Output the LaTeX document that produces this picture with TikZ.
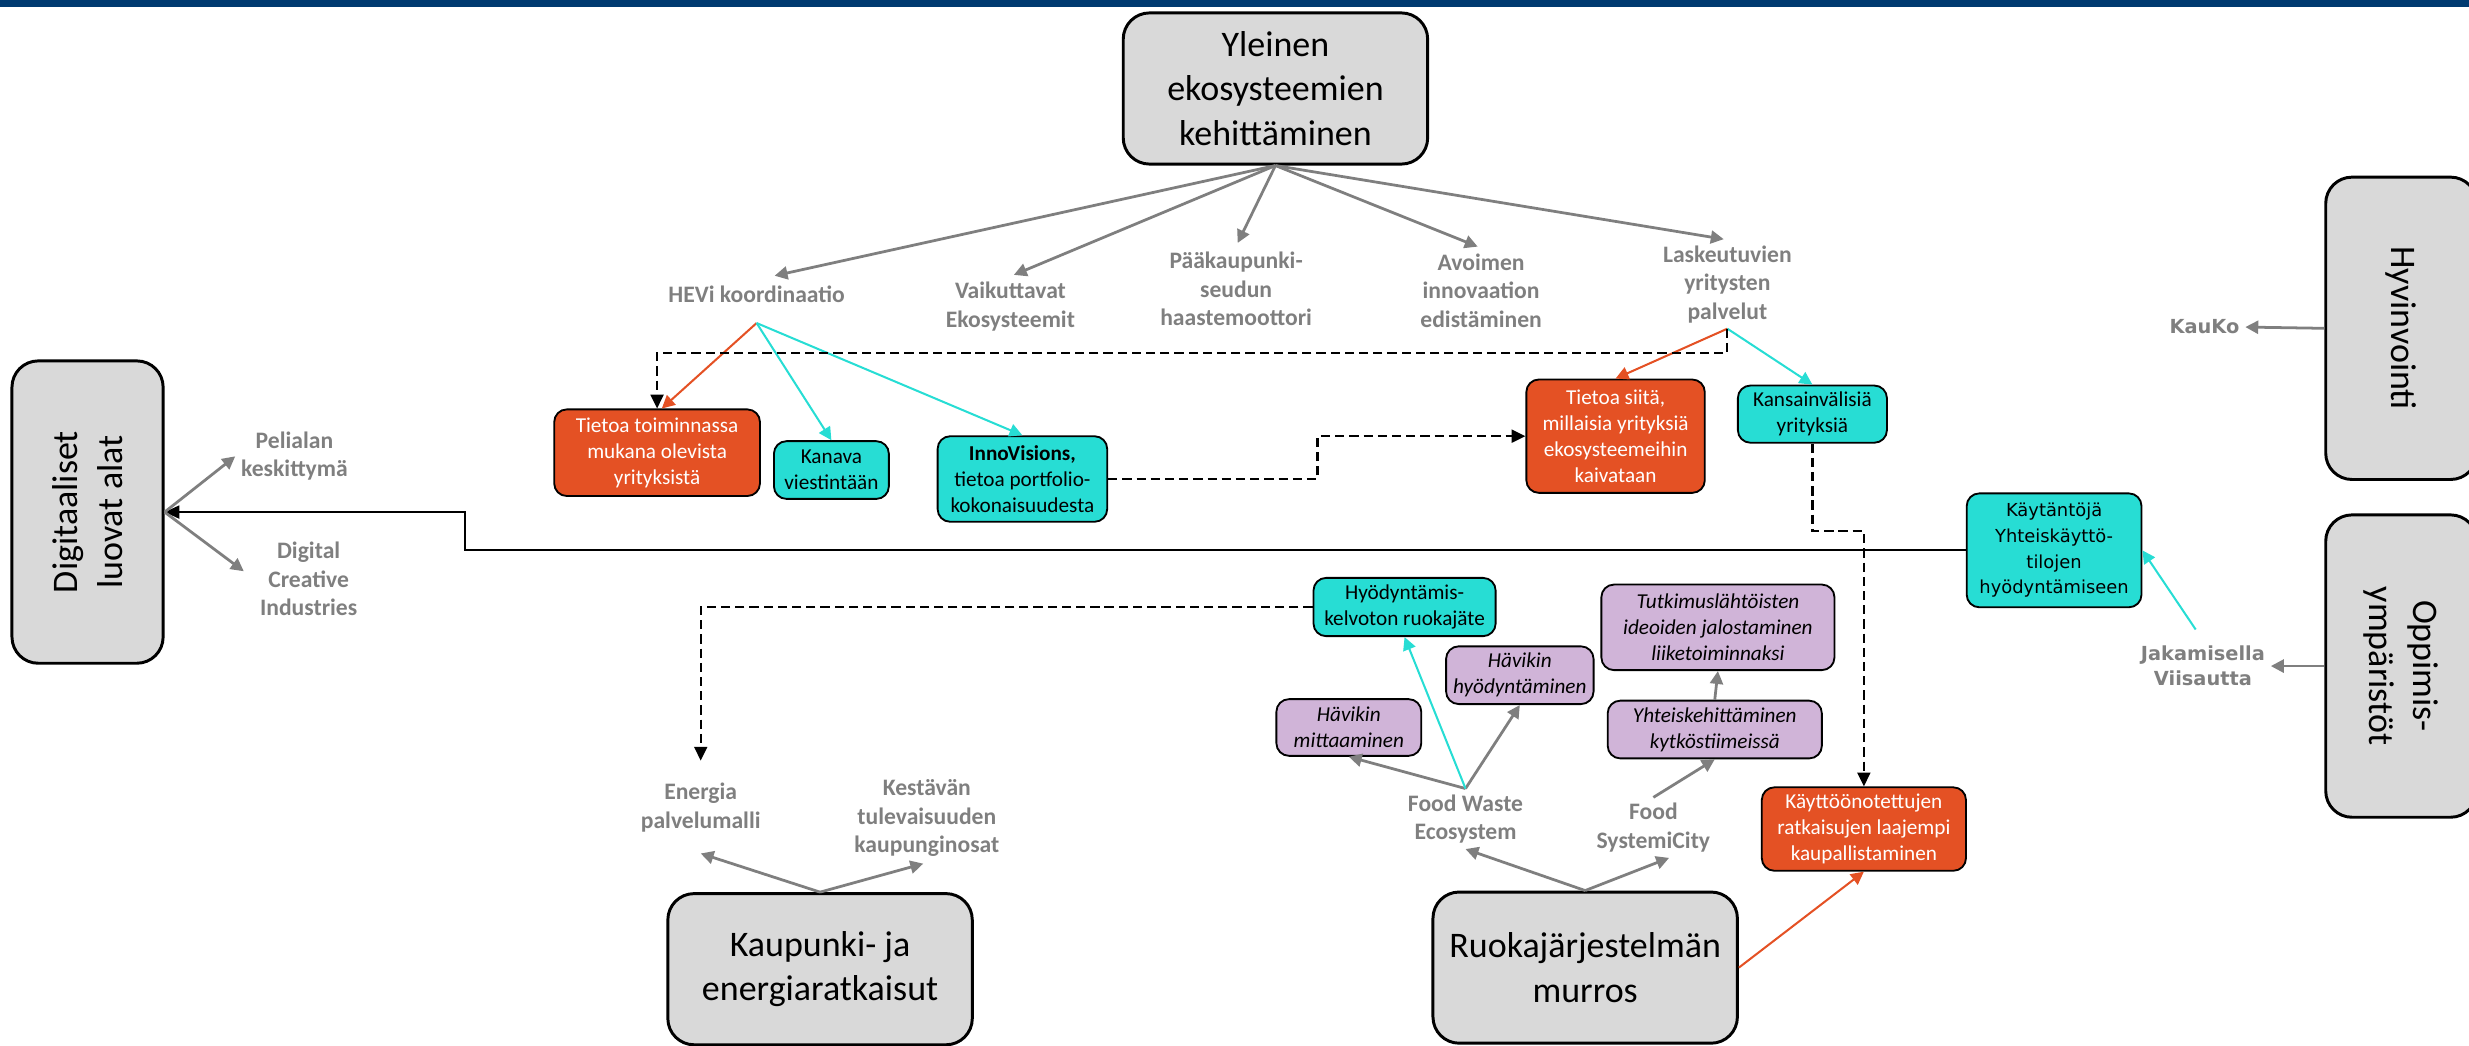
\documentclass[tikz,border=0pt]{standalone}
\usepackage{fontspec}
\setmainfont{Carlito}
\newfontfamily\verdfont{DejaVu Sans}
\usetikzlibrary{arrows.meta}

\definecolor{topbar}{HTML}{003A70}
\definecolor{boxgray}{HTML}{D9D9D9}
\definecolor{hevorange}{HTML}{E45124}
\definecolor{hevteal}{HTML}{27DDD4}
\definecolor{hevlila}{HTML}{D0B4D8}
\definecolor{labelgray}{HTML}{7F7F7F}

\tikzset{
	bigtext/.style={align=center, font=\fontsize{19.5}{24}\selectfont},
	mainbox/.style={bigtext, draw=black, line width=1.6pt, fill=boxgray, rounded corners=0.5cm, inner sep=1pt, minimum width=5.8cm, minimum height=2.88cm},
	sidebox/.style={mainbox, minimum width=2.88cm, minimum height=5.76cm},
	colbox/.style={draw=black, line width=1pt, rounded corners=0.24cm, align=center, inner sep=1pt, font=\fontsize{11.5}{14}\selectfont},
	orangebox/.style={colbox, fill=hevorange, text=white},
	tealbox/.style={colbox, fill=hevteal},
	lilabox/.style={colbox, fill=hevlila, font=\fontsize{11.5}{14}\selectfont\itshape},
	graylabel/.style={text=labelgray, align=center, inner sep=3pt, font=\fontsize{12.8}{15.4}\selectfont\bfseries},
	verdlabel/.style={graylabel, font=\verdfont\fontsize{10.5}{13.5}\selectfont\bfseries},
	grayarrow/.style={draw=labelgray, line width=1.5pt, -{Triangle[length=7pt,width=7pt]}},
	orangearrow/.style={draw=hevorange, line width=1.1pt, -{Triangle[length=7pt,width=7pt]}},
	tealarrow/.style={draw=hevteal, line width=1.1pt, -{Triangle[length=7pt,width=7pt]}},
	dasharrow/.style={draw=black, line width=1.2pt, dash pattern=on 5pt off 2.7pt, -{Triangle[length=7.5pt,width=7pt]}},
	linkarrow/.style={draw=black, line width=1.2pt, -{Triangle[length=8pt,width=7pt]}}
}

\begin{document}
\begin{tikzpicture}[x=0.03cm, y=-0.03cm]
	%%%%% START %%%%%
	\useasboundingbox (0,0) rectangle (1568,664);
	\fill[topbar] (0,0) rectangle (1568,4.5);
	
	% main themes
	\node[mainbox] (yleinen) at (810,56.2) {Yleinen\\ekosysteemien\\kehittäminen};
	\node[mainbox] (kaup) at (520.8,615.5) {Kaupunki- ja\\energiaratkaisut};
	\node[mainbox] (ruoka) at (1006.7,614.5) {Ruokajärjestelmän\\murros};
	
	\node[sidebox] (digi) at (55.6,325.2) {};
	\node[bigtext, rotate=90] (digi-txt) at (digi.center) {Digitaaliset\\luovat alat};
	\node[sidebox] (hyv) at (1525,208.5) {};
	\node[bigtext, rotate=-90] (hyv-txt) at (hyv.center) {Hyvinvointi};
	\node[sidebox] (opp) at (1525,423) {};
	\node[bigtext, rotate=-90] (opp-txt) at (opp.center) {Oppimis-\\ympäristöt};
	
	% gray labels
	\node[graylabel] (hevi) at (480.5,186.7) {HEVi koordinaatio};
	\node[graylabel] (vaik) at (641.7,194.7) {Vaikuttavat\\Ekosysteemit};
	\node[graylabel] (paak) at (785,183.5) {Pääkaupunki-\\seudun\\haastemoottori};
	\node[graylabel] (avoin) at (940.6,184.6) {Avoimen\\innovaation\\edistäminen};
	\node[graylabel] (lask) at (1097,180.5) {Laskeutuvien\\yritysten\\palvelut};
	\node[graylabel] (peli) at (187,289.8) {Pelialan\\keskittymä};
	\node[graylabel] (dci) at (196,367.7) {Digital\\Creative\\Industries};
	\node[graylabel] (energia) at (445,512.8) {Energia\\palvelumalli};
	\node[graylabel] (kestava) at (588.6,519.7) {Kestävän\\tulevaisuuden\\kaupunginosat};
	\node[graylabel] (fwe) at (930.7,520) {Food Waste\\Ecosystem};
	\node[graylabel] (fsc) at (1050,525.6) {Food\\SystemiCity};
	\node[verdlabel] (kauko) at (1400,207.7) {KauKo};
	\node[verdlabel] (jaka) at (1399,423) {Jakamisella\\Viisautta};
	
	% coloured boxes
	\node[orangebox, minimum width=3.92cm, minimum height=1.65cm] (tietoa1) at (417.3,287.5) {Tietoa toiminnassa\\mukana olevista\\yrityksistä};
	\node[tealbox, minimum width=2.19cm, minimum height=1.10cm] (kanava) at (528,298.5) {Kanava\\viestintään};
	\node[tealbox, minimum width=3.23cm, minimum height=1.63cm] (inno) at (649.3,304.2) {\textbf{InnoVisions,}\\tietoa portfolio-\\kokonaisuudesta};
	\node[orangebox, minimum width=3.40cm, minimum height=2.16cm] (tietoa2) at (1026,277) {Tietoa siitä,\\millaisia yrityksiä\\ekosysteemeihin\\kaivataan};
	\node[tealbox, minimum width=2.84cm, minimum height=1.09cm] (kansain) at (1151,263) {Kansainvälisiä\\yrityksiä};
	\node[tealbox, minimum width=3.33cm, minimum height=2.17cm, font=\verdfont\fontsize{9.7}{13.9}\selectfont] (kaytanto) at (1304.5,349.5) {Käytäntöjä\\Yhteiskäyttö-\\tilojen\\hyödyntämiseen};
	\node[tealbox, minimum width=3.47cm, minimum height=1.11cm] (hyodkel) at (892,385.5) {Hyödyntämis-\\kelvoton ruokajäte};
	\node[lilabox, minimum width=4.44cm, minimum height=1.63cm] (tutkimus) at (1091,398.4) {Tutkimuslähtöisten\\ideoiden jalostaminen\\liiketoiminnaksi};
	\node[lilabox, minimum width=2.81cm, minimum height=1.10cm] (havhyod) at (965.2,428.8) {Hävikin\\hyödyntäminen};
	\node[lilabox, minimum width=2.76cm, minimum height=1.08cm] (havmitt) at (856.6,462) {Hävikin\\mittaaminen};
	\node[lilabox, minimum width=4.08cm, minimum height=1.10cm] (yhteis) at (1089,463.3) {Yhteiskehittäminen\\kytköstiimeissä};
	\node[orangebox, minimum width=3.89cm, minimum height=1.59cm] (kaytto) at (1183.7,526.5) {Käyttöönotettujen\\ratkaisujen laajempi\\kaupallistaminen};
	
	% connectors
	\draw[grayarrow, shorten >=10pt] (yleinen.south) -- (hevi.north);
	\draw[grayarrow, shorten >=2pt] (yleinen.south) -- (vaik.north);
	\draw[grayarrow, shorten >=2pt] (yleinen.south) -- (paak.north);
	\draw[grayarrow, shorten >=2pt] (yleinen.south) -- (avoin.north);
	\draw[grayarrow, shorten >=2pt] (yleinen.south) -- (lask.north);
	
	\coordinate (hevi-out) at ([yshift=-8pt]hevi.south);
	\draw[orangearrow] (hevi-out) -- ([xshift=0.09cm]tietoa1.north);
	\draw[tealarrow] (hevi-out) -- (kanava.north);
	\draw[tealarrow] (hevi-out) -- (inno.north);
	\draw[orangearrow] (lask.south) -- (tietoa2.north);
	\draw[tealarrow] (lask.south) -- (kansain.north);
	\draw[dasharrow] (lask.south) -- ++(0,15.5) -| (tietoa1.north);
	\draw[dasharrow] (inno.east) -- ++(133,0) |- (tietoa2.west);
	\draw[dasharrow] (kansain.south) -- ++(0,55.6) -| (kaytto.north);
	
	\draw[linkarrow] (kaytanto.west) -- ++(-953,0) |- (digi.east);
	\draw[grayarrow] (digi.east) -- (peli.west);
	\draw[grayarrow, shorten >=7pt] (digi.east) -- (dci.west);
	
	\draw[grayarrow] (hyv.west) -- (kauko.east);
	\draw[grayarrow] (opp.west) -- (jaka.east);
	\draw[tealarrow, shorten <=7pt] (jaka.north) -- (kaytanto.east);
	
	\draw[dasharrow, shorten >=9pt] (hyodkel.west) -| (energia.north);
	\draw[grayarrow] (kaup.north) -- ([yshift=-0.3cm]energia.south);
	\draw[grayarrow, shorten >=2pt] (kaup.north) -- (kestava.south);
	
	\draw[grayarrow] (ruoka.north) -- (fwe.south);
	\draw[grayarrow] (ruoka.north) -- ([xshift=0.3cm]fsc.south);
	\draw[orangearrow] (ruoka.east) -- (kaytto.south);
	\draw[grayarrow] (fwe.north) -- (havmitt.south);
	\draw[grayarrow] (fwe.north) -- (havhyod.south);
	\draw[tealarrow] (fwe.north) -- (hyodkel.south);
	\draw[grayarrow] (fsc.north) -- (yhteis.south);
	\draw[grayarrow] (yhteis.north) -- (tutkimus.south);
	%%%%% END %%%%%
\end{tikzpicture}
\end{document}
